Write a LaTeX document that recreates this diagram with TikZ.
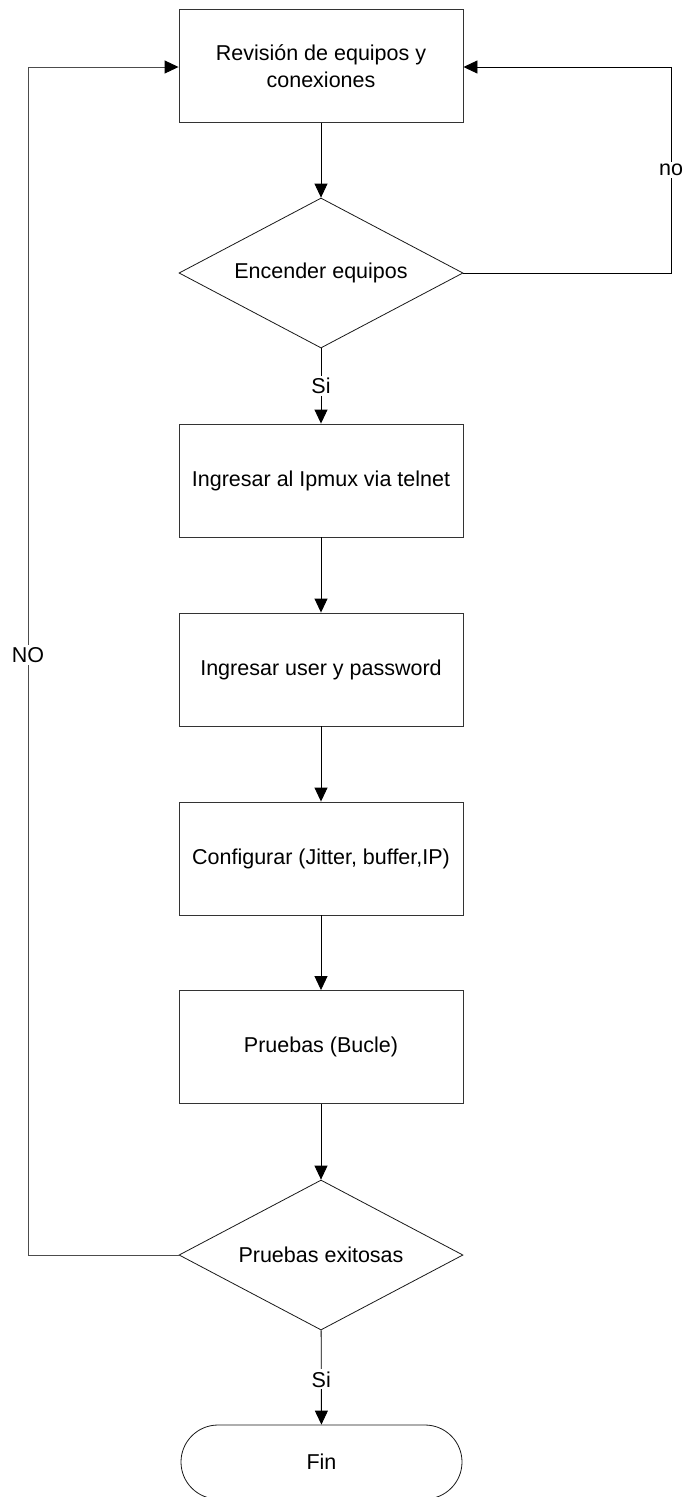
\documentclass[tikz,border=0pt]{standalone}
\usepackage{fontspec}
\setmainfont{Liberation Sans}
\usetikzlibrary{shapes.geometric,shapes.misc,arrows.meta}
\begin{document}
\begin{tikzpicture}[x=1pt,y=-1pt,
  every node/.style={font=\fontsize{21.5}{27}\selectfont},
  procbox/.style={draw=black!80,line width=0.9pt,minimum width=284pt,minimum height=113pt,inner sep=0pt,align=center},
  decide/.style={draw=black!90,line width=0.8pt,diamond,aspect=1.893,minimum width=284pt,minimum height=150pt,inner sep=0pt},
  term/.style={draw=black!90,line width=0.8pt,rounded rectangle,minimum width=281pt,minimum height=74pt,inner sep=0pt},
  conn/.style={draw=black,line width=0.9pt},
  arr/.style={conn,-{Triangle[length=14pt,width=13pt,color=black]}},
  lbl/.style={fill=white,inner sep=2pt}]
\useasboundingbox (0,0) rectangle (685,1497);
\node[procbox] (rev) at (321,66) {Revisión de equipos y\\conexiones};
\node[decide] (enc) at (321,273) {Encender equipos};
\node[procbox] (ipm) at (321,480.5) {Ingresar al Ipmux via telnet};
\node[procbox] (usr) at (321,669.5) {Ingresar user y password};
\node[procbox] (cfg) at (321,858.5) {Configurar (Jitter, buffer,IP)};
\node[procbox] (prb) at (321,1047) {Pruebas (Bucle)};
\node[decide] (exi) at (321,1255) {Pruebas exitosas};
\node[term] (fin) at (321.5,1462) {Fin};
\coordinate (r1) at (671,273);
\coordinate (r2) at (671,67);
\coordinate (l1) at (28,1255);
\coordinate (l2) at (28,67);
\draw[arr] (rev) -- (enc);
\draw[arr] (enc) -- node[lbl] {Si} (ipm);
\draw[arr] (ipm) -- (usr);
\draw[arr] (usr) -- (cfg);
\draw[arr] (cfg) -- (prb);
\draw[arr] (prb) -- (exi);
\draw[arr] (exi) -- node[lbl,pos=0.52] {Si} (fin);
\draw[arr] (enc.east) -- (r1) -- node[lbl,pos=0.5] {no} (r2) -- (rev.east |- r2);
\draw[arr,draw=black!70] (exi.west) -- (l1) -- node[lbl,pos=0.505] {NO} (l2) -- (rev.west |- l2);
\end{tikzpicture}
\end{document}
